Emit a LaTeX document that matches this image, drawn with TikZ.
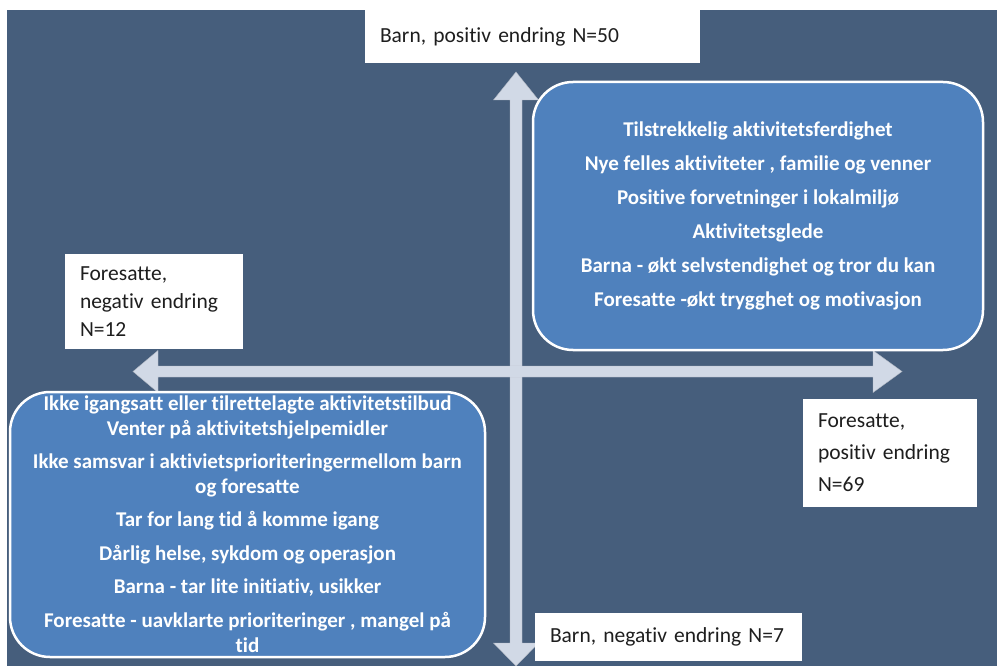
\documentclass[tikz,border=0pt]{standalone}
\usepackage{fontspec}
\setmainfont{Carlito}[Ligatures=NoCommon]
\definecolor{slate}{HTML}{465E7C}
\definecolor{panel}{HTML}{4F81BD}
\definecolor{axis}{HTML}{D1D9E6}
\definecolor{ink}{HTML}{1E1E1E}
\begin{document}
\begin{tikzpicture}[x=1pt,y=-1pt,
  panelbox/.style={draw=white, line width=2.5pt, fill=panel, rounded corners=40pt,
    text=white, align=center, inner sep=0pt},
  tag/.style={fill=white, text=ink, inner xsep=15pt, inner ysep=0pt, align=left,
    font=\fontsize{21.5}{28}\selectfont},
  axisarrow/.style={fill=axis, draw=axis!85!black, line width=0.4pt}
]
\useasboundingbox (0,0) rectangle (997,666);
% backdrop
\fill[slate] (7,10) rectangle (997,666);

% vertical axis: Barn
\coordinate (vtop) at (516,72);
\coordinate (vbot) at (516,666);
\fill[axisarrow] (vtop) -- (538.5,100) -- (522,100) -- (522,643) -- (538.5,643)
  -- (vbot) -- (493.5,643) -- (510,643) -- (510,100) -- (493.5,100) -- cycle;

% horizontal axis: Foresatte
\coordinate (hleft) at (133,371.5);
\coordinate (hright) at (902,371.5);
\fill[axisarrow] (hleft) -- (158,350.5) -- (158,366) -- (873,366) -- (873,350.5)
  -- (hright) -- (873,392.5) -- (873,377) -- (158,377) -- (158,392.5) -- cycle;
\fill[axis] (510,366) rectangle (522,377);

% axis labels
\node[tag, minimum width=335pt, minimum height=53pt, text width=305pt] (bpos) at (532.5,36.5)
  {Barn, positiv endring N=50};
\node[tag, minimum width=178pt, minimum height=95pt, text width=148pt] (fneg) at (154,301.5)
  {Foresatte,\\negativ endring\\N=12};
\node[tag, minimum width=174pt, minimum height=108pt, text width=144pt,
  font=\fontsize{21.5}{32}\selectfont] (fpos) at (890,453)
  {Foresatte,\\positiv endring\\N=69};
\node[tag, minimum width=267pt, minimum height=48pt, text width=237pt] (bneg) at (668.5,637)
  {Barn, negativ endring N=7};

% positive quadrant
\node[panelbox, minimum width=450pt, minimum height=268pt,
  font=\fontsize{21}{34}\selectfont\bfseries] (good) at (758,216)
  {Tilstrekkelig aktivitetsferdighet\\
   Nye felles aktiviteter , familie og venner\\
   Positive forvetninger i lokalmiljø\\
   Aktivitetsglede\\
   Barna - økt selvstendighet og tror du kan\\
   Foresatte -økt trygghet og motivasjon};

% negative quadrant
\node[panelbox, minimum width=475pt, minimum height=265pt,
  font=\fontsize{21}{25}\selectfont\bfseries] (bad) at (247.5,524.5)
  {Ikke igangsatt eller tilrettelagte aktivitetstilbud\\
   Venter på aktivitetshjelpemidler\\[8pt]
   Ikke samsvar i aktivietsprioriteringermellom barn\\
   og foresatte\\[8pt]
   Tar for lang tid å komme igang\\[9pt]
   Dårlig helse, sykdom og operasjon\\[8pt]
   Barna - tar lite initiativ, usikker\\[9pt]
   Foresatte - uavklarte prioriteringer , mangel på\\
   tid};
\end{tikzpicture}
\end{document}
